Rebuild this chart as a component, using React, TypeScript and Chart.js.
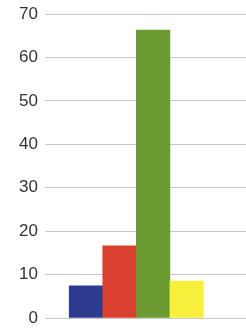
import React, { useEffect, useRef } from "react";
import { Chart, registerables } from "chart.js";

Chart.register(...registerables);

const categories = ["Blue", "Red", "Green", "Yellow"];
const values = [7.4, 16.6, 66.3, 8.5];
const colors = ["#2c3a8f", "#d9402f", "#6b9a31", "#f8ee3c"];
const yTicks = [0, 10, 20, 30, 40, 50, 60, 70];

export default function App() {
  const ref = useRef<HTMLCanvasElement>(null);
  useEffect(() => {
    if (!ref.current) return;
    const chart = new Chart(ref.current, {
      type: "bar",
      data: {
        datasets: [
          {
            label: "values",
            data: values.map((v, i) => ({ x: i + 1, y: v, c: categories[i] })) as any,
            backgroundColor: colors,
            borderWidth: 0,
            barPercentage: 1,
            categoryPercentage: 1,
          },
        ],
      },
      options: {
        animation: false,
        responsive: false,
        maintainAspectRatio: false,
        layout: { padding: { top: 14, bottom: 10, left: 0, right: 0 } },
        plugins: { legend: { display: false }, tooltip: { enabled: false } },
        scales: {
          x: {
            type: "linear",
            offset: false,
            min: -0.222,
            max: 5.769,
            display: false,
            grid: { display: false },
            ticks: { includeBounds: false, stepSize: 1 },
          },
          y: {
            min: yTicks[0],
            max: yTicks[yTicks.length - 1],
            afterFit: (s: any) => {
              s.width = 45;
              s.paddingTop = 0;
              s.paddingBottom = 0;
            },
            border: { display: false },
            grid: { color: "#c8c8c8", lineWidth: 1, drawTicks: false },
            ticks: {
              stepSize: 10,
              padding: 7,
              color: "#333333",
              font: { family: "Liberation Sans", size: 17 },
            },
          },
        },
      },
    });
    return () => chart.destroy();
  }, []);
  return (
    <div style={{ position: "absolute", left: 0, top: 0, width: 246, height: 328 }}>
      <canvas ref={ref} width={246} height={328} />
    </div>
  );
}
